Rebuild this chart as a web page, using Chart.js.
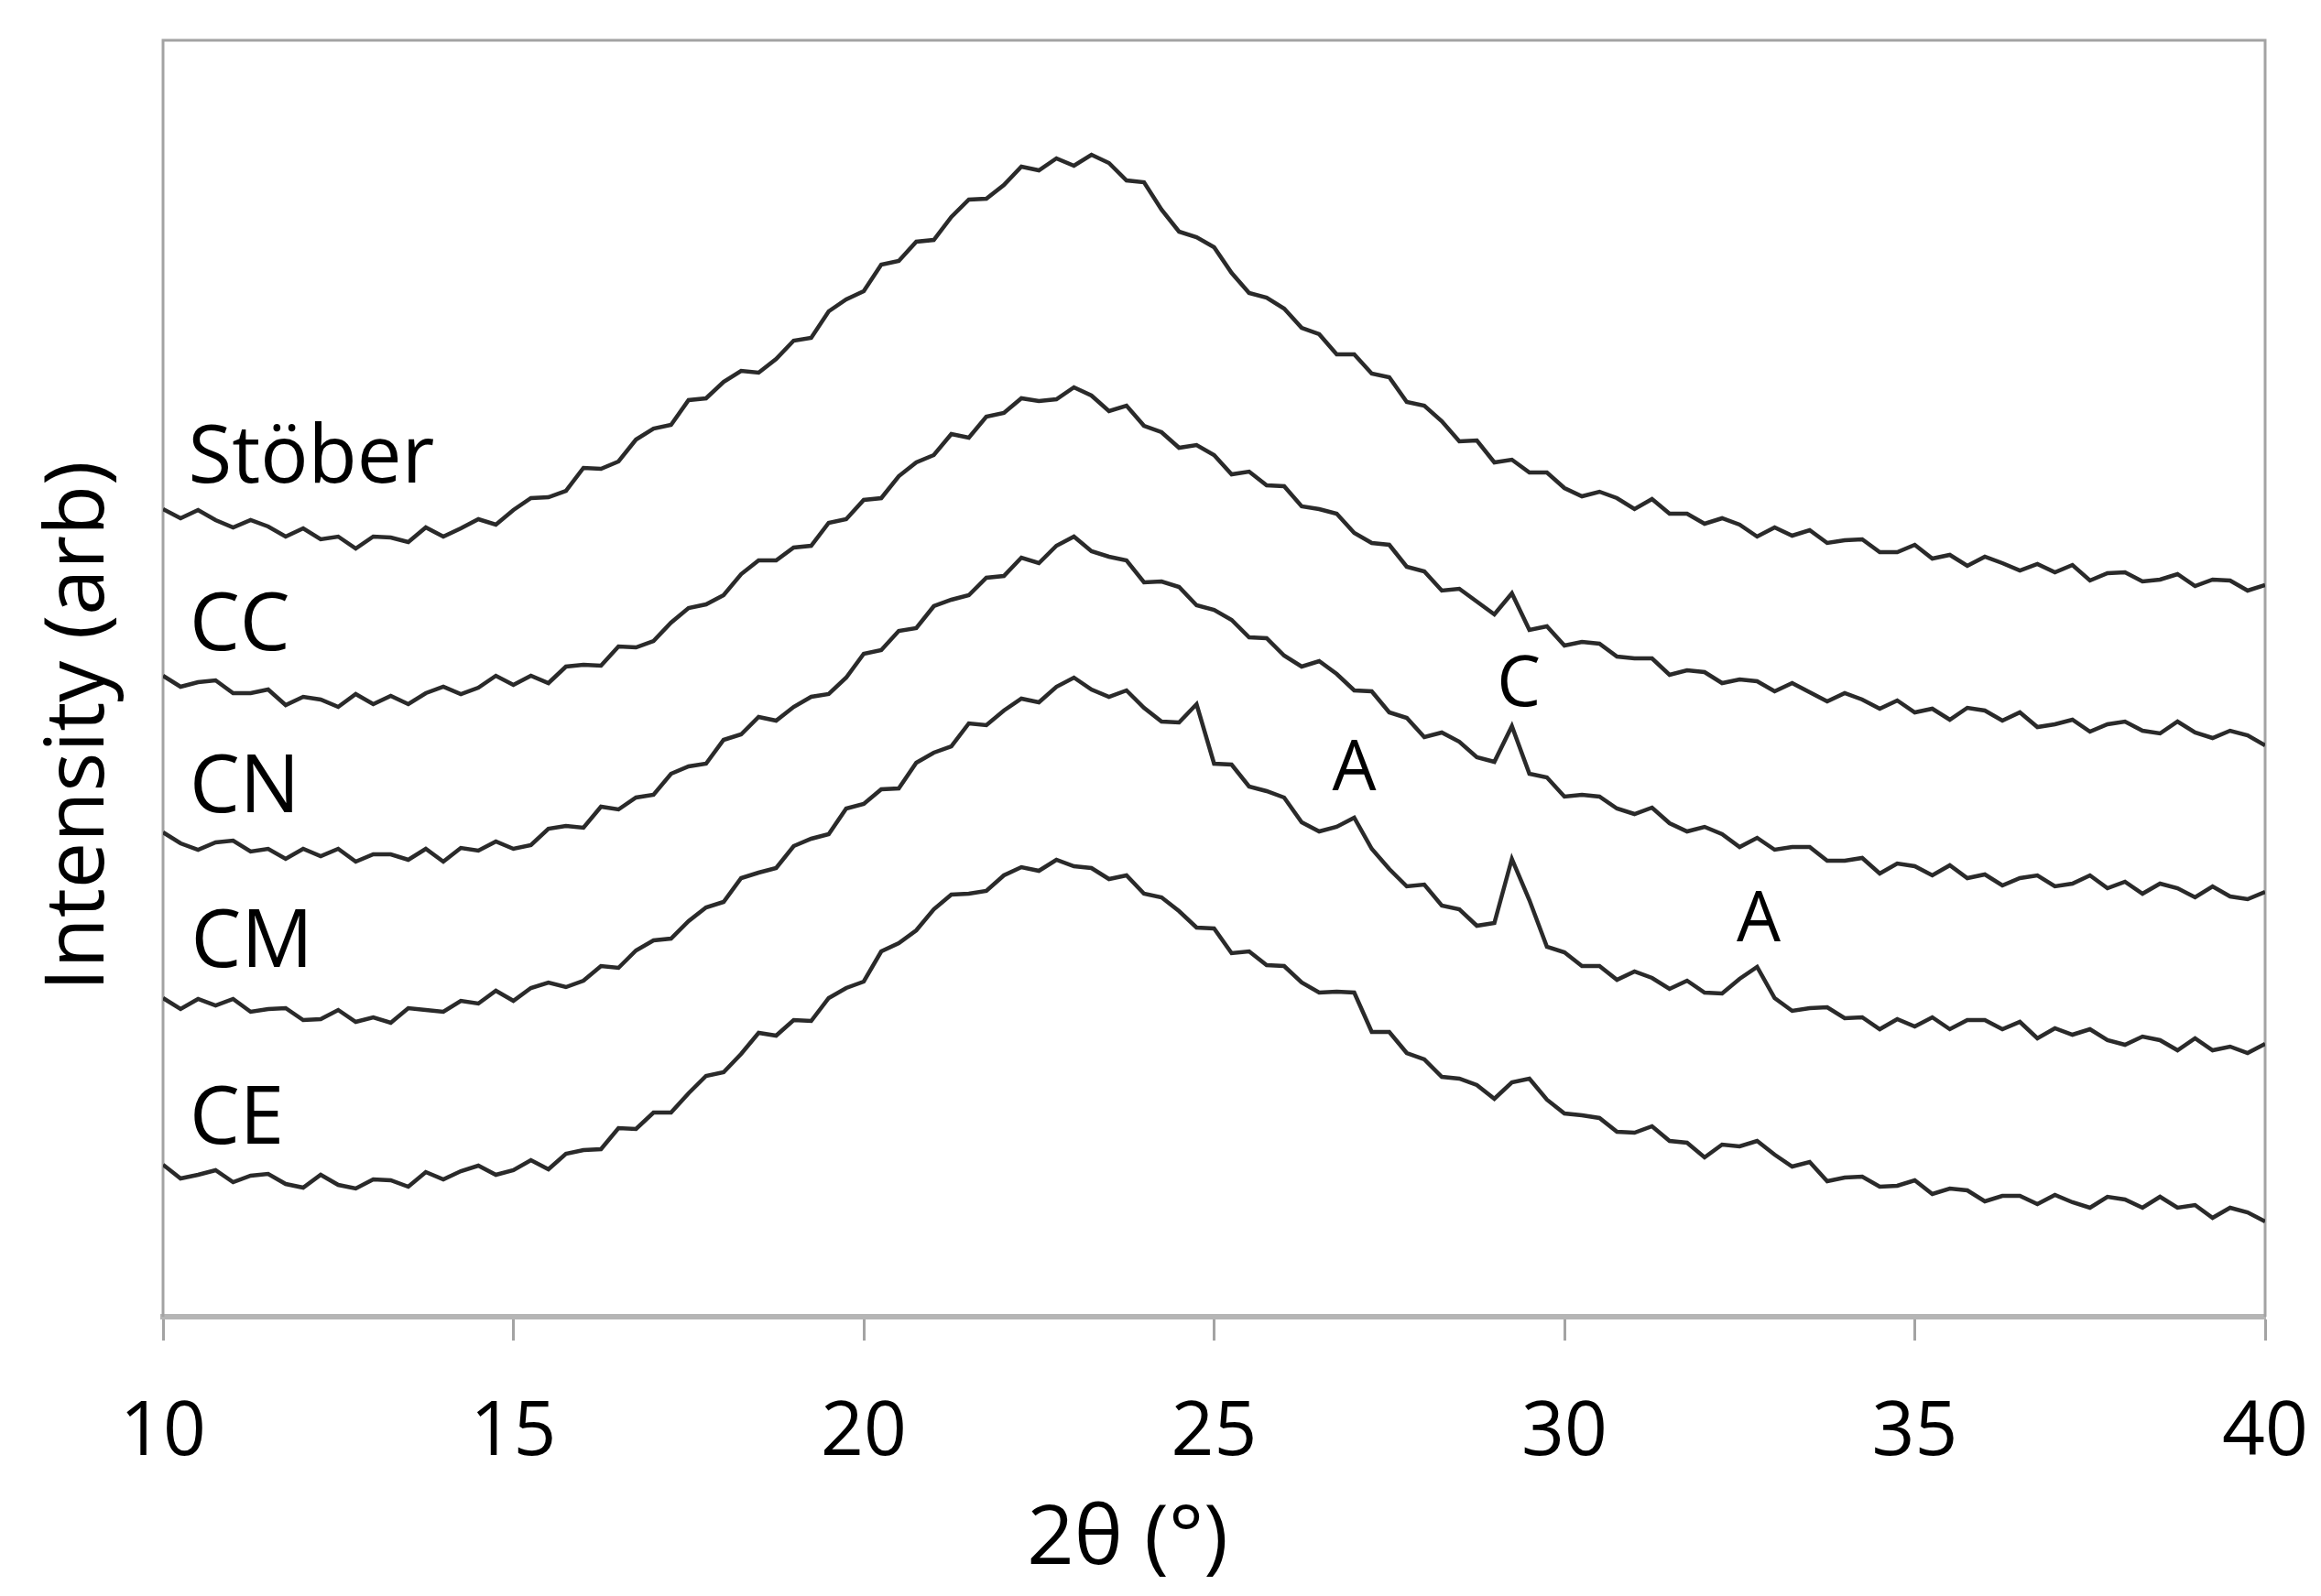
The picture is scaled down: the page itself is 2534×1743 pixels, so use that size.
<!DOCTYPE html>
<html>
<head>
<meta charset="utf-8">
<title>XRD patterns</title>
<script src="https://cdn.jsdelivr.net/npm/chart.js@4.4.0/dist/chart.umd.min.js"></script>
<style>
  html, body { margin: 0; padding: 0; background: #fff; }
</style>
</head>
<body>
<canvas id="xrd-chart" width="2534" height="1743"></canvas>
<script>
// 2-theta sampling grid (degrees)
const twoTheta = [
  10, 10.25, 10.5, 10.75, 11, 11.25, 11.5, 11.75, 12, 12.25, 12.5, 12.75, 13, 13.25, 13.5, 13.75,
  14, 14.25, 14.5, 14.75, 15, 15.25, 15.5, 15.75, 16, 16.25, 16.5, 16.75, 17, 17.25, 17.5, 17.75,
  18, 18.25, 18.5, 18.75, 19, 19.25, 19.5, 19.75, 20, 20.25, 20.5, 20.75, 21, 21.25, 21.5, 21.75,
  22, 22.25, 22.5, 22.75, 23, 23.25, 23.5, 23.75, 24, 24.25, 24.5, 24.75, 25, 25.25, 25.5, 25.75,
  26, 26.25, 26.5, 26.75, 27, 27.25, 27.5, 27.75, 28, 28.25, 28.5, 28.75, 29, 29.25, 29.5, 29.75,
  30, 30.25, 30.5, 30.75, 31, 31.25, 31.5, 31.75, 32, 32.25, 32.5, 32.75, 33, 33.25, 33.5, 33.75,
  34, 34.25, 34.5, 34.75, 35, 35.25, 35.5, 35.75, 36, 36.25, 36.5, 36.75, 37, 37.25, 37.5, 37.75,
  38, 38.25, 38.5, 38.75, 39, 39.25, 39.5, 39.75, 40
];

// intensities (arb, traces already stacked with offsets)
const stober = [
  882, 872, 881, 870, 862, 870, 863, 852, 861, 849, 852, 839, 852, 851, 846, 862, 852, 861, 871, 865,
  881, 894, 895, 902, 927, 926, 934, 958, 970, 974, 1001, 1003, 1021, 1033, 1031, 1046, 1066, 1069, 1098, 1111,
  1120, 1149, 1153, 1174, 1176, 1201, 1220, 1221, 1236, 1256, 1252, 1265, 1257, 1269, 1260, 1241, 1239, 1209, 1185, 1179,
  1168, 1140, 1118, 1113, 1101, 1080, 1073, 1051, 1051, 1030, 1026, 999, 995, 978, 956, 957, 933, 936, 922, 922,
  905, 896, 901, 894, 882, 893, 877, 877, 866, 872, 865, 852, 862, 853, 859, 845, 848, 849, 835, 835,
  843, 828, 832, 820, 830, 823, 815, 822, 813, 821, 804, 812, 813, 803, 805, 811, 798, 805, 804, 793,
  799
];
const cc = [
  700, 688, 693, 695, 681, 681, 685, 668, 677, 674, 666, 680, 669, 678, 669, 681, 688, 680, 687, 700,
  690, 700, 692, 710, 712, 711, 732, 731, 738, 758, 774, 778, 788, 811, 826, 826, 840, 842, 867, 871,
  892, 894, 918, 933, 941, 964, 960, 983, 987, 1003, 1000, 1002, 1015, 1006, 989, 995, 973, 966, 949, 952,
  941, 920, 923, 908, 907, 885, 882, 877, 856, 845, 843, 819, 814, 793, 795, 781, 767, 790, 750, 754,
  733, 737, 735, 721, 719, 719, 701, 706, 704, 692, 696, 694, 683, 692, 682, 672, 681, 674, 664, 673,
  660, 664, 652, 665, 662, 651, 660, 644, 647, 652, 639, 647, 650, 640, 637, 650, 638, 632, 640, 635,
  624
];
const cn = [
  529, 517, 510, 518, 520, 508, 511, 500, 511, 503, 511, 497, 505, 505, 499, 511, 497, 512, 509, 519,
  511, 515, 533, 536, 534, 557, 554, 567, 570, 593, 601, 604, 630, 636, 655, 651, 666, 677, 680, 698,
  724, 728, 749, 752, 776, 783, 788, 807, 809, 829, 823, 842, 852, 836, 830, 826, 802, 803, 797, 777,
  772, 761, 742, 741, 722, 710, 716, 702, 684, 683, 660, 654, 633, 638, 628, 611, 606, 645, 593, 589,
  568, 570, 568, 555, 549, 556, 539, 530, 535, 527, 513, 523, 510, 513, 513, 498, 498, 501, 484, 495,
  492, 482, 493, 479, 483, 471, 479, 482, 470, 473, 482, 468, 475, 462, 473, 468, 458, 470, 459, 456,
  464
];
const cm = [
  348, 336, 347, 340, 347, 333, 336, 337, 324, 325, 335, 322, 327, 321, 337, 335, 333, 345, 342, 356,
  345, 359, 365, 360, 367, 383, 381, 400, 411, 413, 432, 447, 453, 479, 485, 490, 514, 522, 527, 555,
  560, 576, 577, 605, 616, 623, 648, 646, 662, 675, 671, 688, 698, 685, 677, 684, 665, 650, 649, 669,
  604, 603, 579, 574, 567, 540, 530, 535, 545, 511, 489, 470, 472, 449, 445, 427, 430, 500, 455, 404,
  398, 383, 383, 368, 377, 370, 358, 367, 354, 353, 369, 382, 348, 334, 337, 338, 326, 327, 314, 325,
  317, 327, 314, 324, 324, 314, 322, 304, 315, 308, 314, 302, 297, 306, 302, 291, 304, 291, 295, 288,
  298
];
const ce = [
  166, 151, 155, 160, 147, 154, 156, 145, 141, 155, 144, 140, 150, 149, 142, 158, 150, 159, 165, 155,
  160, 171, 161, 178, 182, 183, 206, 205, 223, 223, 244, 263, 267, 287, 310, 307, 324, 323, 348, 359,
  366, 399, 408, 422, 445, 461, 462, 465, 482, 491, 487, 499, 492, 490, 478, 482, 462, 458, 443, 425,
  424, 397, 399, 384, 383, 365, 354, 355, 354, 311, 311, 288, 281, 262, 260, 253, 238, 256, 260, 237,
  222, 220, 217, 202, 201, 208, 192, 190, 174, 188, 186, 192, 177, 164, 169, 148, 152, 153, 142, 143,
  149, 134, 140, 138, 126, 132, 132, 123, 133, 125, 119, 131, 128, 119, 131, 119, 122, 108, 119, 114,
  104
];

const sampleNames = ['Stöber', 'CC', 'CN', 'CM', 'CE'];
const xTicks = [10, 15, 20, 25, 30, 35, 40];
const peakLetters = ['C', 'A', 'A'];

// where the text annotations sit (in data units)
const nameSpots = [
  { x: 10.36, y: 911 }, { x: 10.38, y: 728 }, { x: 10.38, y: 551 }, { x: 10.4, y: 382 }, { x: 10.38, y: 189 }
];
const peakSpots = [{ x: 29.35, y: 667 }, { x: 27.0, y: 575 }, { x: 32.77, y: 410 }];

const FONT = "'Open Sans', 'Noto Sans', sans-serif";
Chart.defaults.font.family = FONT;
Chart.defaults.color = '#000';

function toPoints(vals) {
  return vals.map((v, i) => ({ x: twoTheta[i], y: v }));
}

const frame = {
  id: 'frame',
  beforeDatasetsDraw(chart) {
    const { ctx, chartArea: a } = chart;
    ctx.save();
    ctx.strokeStyle = '#a3a3a3';
    ctx.lineWidth = 3;
    ctx.beginPath();
    ctx.moveTo(a.left, a.bottom);
    ctx.lineTo(a.left, a.top);
    ctx.lineTo(a.right, a.top);
    ctx.lineTo(a.right, a.bottom);
    ctx.stroke();
    ctx.restore();
  }
};

const annotations = {
  id: 'annotations',
  afterDraw(chart) {
    const { ctx, scales: { x, y } } = chart;
    ctx.save();
    ctx.fillStyle = '#000';
    ctx.textBaseline = 'alphabetic';

    ctx.font = '87px ' + FONT;
    ctx.textAlign = 'left';
    sampleNames.forEach((name, i) => {
      ctx.fillText(name, x.getPixelForValue(nameSpots[i].x), y.getPixelForValue(nameSpots[i].y));
    });

    ctx.font = '76px ' + FONT;
    ctx.textAlign = 'center';
    peakLetters.forEach((t, i) => {
      ctx.fillText(t, x.getPixelForValue(peakSpots[i].x), y.getPixelForValue(peakSpots[i].y));
    });

    // x axis title (sits a little left of the plot centre in the original)
    ctx.font = '90px ' + FONT;
    ctx.fillText('2θ (°)', 1231, 1708);

    // y axis title
    ctx.translate(113, 793);
    ctx.rotate(-Math.PI / 2);
    ctx.fillText('Intensity (arb)', 0, 0);
    ctx.restore();
  }
};

const series = [stober, cc, cn, cm, ce];
const ctx = document.getElementById('xrd-chart').getContext('2d');
new Chart(ctx, {
  type: 'line',
  data: {
    datasets: series.map((vals, i) => ({
      label: sampleNames[i],
      data: toPoints(vals),
      borderColor: '#2a2a2a',
      borderWidth: 4.5,
      pointRadius: 0,
      tension: 0,
      fill: false
    }))
  },
  options: {
    responsive: false,
    devicePixelRatio: 1,
    animation: false,
    layout: { padding: { left: 178, right: 61, top: 44, bottom: 0 } },
    plugins: { legend: { display: false }, tooltip: { enabled: false } },
    scales: {
      x: {
        type: 'linear',
        min: 10,
        max: 40,
        afterBuildTicks: scale => { scale.ticks = xTicks.map(v => ({ value: v })); },
        afterFit: scale => {
          scale.height = 305;
          scale.paddingLeft = 0;
          scale.paddingRight = 0;
        },
        ticks: {
          font: { size: 82 },
          color: '#000',
          padding: 52,
          maxRotation: 0,
          autoSkip: false
        },
        grid: {
          drawOnChartArea: false,
          drawTicks: true,
          tickLength: 26,
          tickWidth: 3,
          tickColor: '#a3a3a3'
        },
        border: { color: '#b5b5b5', width: 6 },
        title: { display: false }
      },
      y: {
        display: false,
        min: 0,
        max: 1394
      }
    }
  },
  plugins: [frame, annotations]
});
</script>
</body>
</html>
